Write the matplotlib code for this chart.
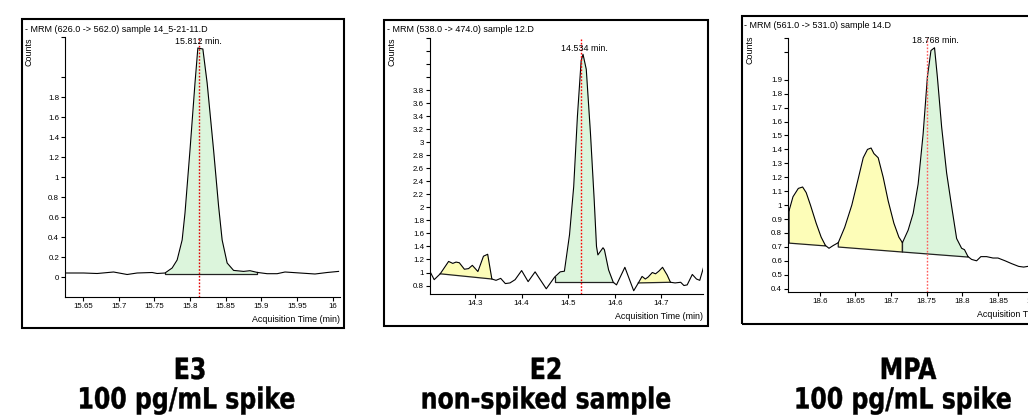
import matplotlib.pyplot as plt
from matplotlib.patches import Rectangle
from matplotlib.patheffects import AbstractPathEffect
from matplotlib.transforms import Affine2D
import numpy as np

# ---- data ----
# E3, 100 pg/mL spike
e3_time = [15.625, 15.651, 15.670, 15.693, 15.712, 15.726, 15.747, 15.754, 15.765,
           15.775, 15.782, 15.789, 15.793, 15.800, 15.807, 15.811, 15.818, 15.824,
           15.833, 15.840, 15.845, 15.852, 15.861, 15.875, 15.884, 15.894, 15.908,
           15.922, 15.933, 15.954, 15.975, 15.992, 16.008]
e3_counts = [0.04, 0.04, 0.035, 0.05, 0.025, 0.04, 0.045, 0.035, 0.04,
             0.09, 0.17, 0.37, 0.64, 1.27, 1.94, 2.29, 2.28, 1.94,
             1.27, 0.71, 0.37, 0.14, 0.066, 0.056, 0.063, 0.046, 0.033,
             0.033, 0.05, 0.04, 0.03, 0.045, 0.056]
# integrated peaks: start, end, baseline at start, baseline at end
e3_peaks = [(15.765, 15.894, 0.035, 0.035)]
e3_kind = ['target']
e3_rt = 15.813

# E2, non-spiked sample
e2_time = [14.203, 14.212, 14.225, 14.243, 14.252, 14.259, 14.266, 14.277, 14.286,
           14.294, 14.306, 14.318, 14.327, 14.336, 14.345, 14.355, 14.365, 14.375,
           14.386, 14.400, 14.414, 14.429, 14.440, 14.453, 14.471, 14.483, 14.492,
           14.503, 14.512, 14.520, 14.528, 14.532, 14.539, 14.548, 14.556, 14.561,
           14.564, 14.575, 14.578, 14.587, 14.597, 14.604, 14.622, 14.641, 14.651,
           14.659, 14.666, 14.672, 14.681, 14.688, 14.695, 14.703, 14.713, 14.720,
           14.730, 14.742, 14.749, 14.756, 14.767, 14.776, 14.783, 14.792]
e2_counts = [1.015, 0.89, 0.98, 1.17, 1.14, 1.16, 1.15, 1.05, 1.06,
             1.11, 1.015, 1.25, 1.28, 0.90, 0.88, 0.91, 0.83, 0.84,
             0.89, 1.03, 0.86, 1.01, 0.89, 0.75, 0.93, 1.01, 1.02,
             1.58, 2.32, 3.40, 4.25, 4.35, 4.12, 3.14, 2.12, 1.40,
             1.27, 1.38, 1.35, 1.04, 0.85, 0.81, 1.08, 0.72, 0.84,
             0.94, 0.90, 0.93, 1.00, 0.98, 1.02, 1.08, 0.96, 0.85,
             0.84, 0.85, 0.80, 0.81, 0.97, 0.90, 0.88, 1.10]
e2_peaks = [(14.225, 14.336, 0.98, 0.90),
            (14.471, 14.597, 0.85, 0.85),
            (14.651, 14.720, 0.84, 0.85)]
e2_kind = ['other', 'target', 'other']
e2_rt = 14.527

# MPA, 100 pg/mL spike
mpa_time = [18.557, 18.5625, 18.570, 18.576, 18.581, 18.587, 18.595, 18.602, 18.608,
            18.613, 18.619, 18.626, 18.635, 18.645, 18.654, 18.661, 18.667, 18.672,
            18.676, 18.682, 18.689, 18.696, 18.704, 18.711, 18.716, 18.724, 18.731,
            18.738, 18.745, 18.751, 18.756, 18.761, 18.765, 18.771, 18.778, 18.785,
            18.792, 18.799, 18.803, 18.808, 18.813, 18.820, 18.826, 18.834, 18.843,
            18.850, 18.860, 18.869, 18.879, 18.886, 18.892, 18.900]
mpa_counts = [0.96, 1.06, 1.12, 1.13, 1.09, 1.00, 0.87, 0.77, 0.71,
              0.69, 0.71, 0.73, 0.84, 1.00, 1.19, 1.34, 1.40, 1.41,
              1.37, 1.34, 1.20, 1.03, 0.87, 0.77, 0.73, 0.82, 0.94,
              1.15, 1.51, 1.92, 2.11, 2.13, 1.92, 1.56, 1.23, 0.99,
              0.76, 0.69, 0.68, 0.63, 0.61, 0.60, 0.63, 0.63, 0.62,
              0.62, 0.60, 0.58, 0.56, 0.555, 0.56, 0.57]
mpa_peaks = [(18.557, 18.608, 0.727, 0.707),
             (18.626, 18.716, 0.699, 0.663),
             (18.716, 18.808, 0.663, 0.627)]
mpa_kind = ['other', 'other', 'target']
mpa_rt = 18.751

titles = ['- MRM (626.0 -> 562.0) sample 14_5-21-11.D',
          '- MRM (538.0 -> 474.0) sample 12.D',
          '- MRM (561.0 -> 531.0) sample 14.D']
rt_labels = ['15.812 min.', '14.534 min.', '18.768 min.']
compounds = ['E3', 'E2', 'MPA']
conditions = ['100 pg/mL spike', 'non-spiked sample', '100 pg/mL spike']

e3_yticks = [0, 0.2, 0.4, 0.6, 0.8, 1, 1.2, 1.4, 1.6, 1.8]
e3_yextra = [2.0, 2.4]
e3_xticks = [15.65, 15.7, 15.75, 15.8, 15.85, 15.9, 15.95, 16]
e2_yticks = [0.8, 1, 1.2, 1.4, 1.6, 1.8, 2, 2.2, 2.4, 2.6, 2.8, 3, 3.2, 3.4, 3.6, 3.8]
e2_yextra = [4.0, 4.2, 4.4, 4.6]
e2_xticks = [14.3, 14.4, 14.5, 14.6, 14.7]
mpa_yticks = [0.4, 0.5, 0.6, 0.7, 0.8, 0.9, 1, 1.1, 1.2, 1.3, 1.4, 1.5, 1.6, 1.7, 1.8, 1.9]
mpa_yextra = [2.1, 2.2]
mpa_xticks = [18.6, 18.65, 18.7, 18.75, 18.8, 18.85, 18.9]

W, H = 1028, 417
plt.rcParams['font.family'] = ['Liberation Sans', 'DejaVu Sans']

fig = plt.figure(figsize=(W / 100, H / 100), dpi=100)


def fx(px):
    return px / W


def fy(py):
    return 1 - py / H


def add_axes(left, top, right, bottom):
    return fig.add_axes([fx(left), fy(bottom), (right - left) / W, (bottom - top) / H])


class Squeeze(AbstractPathEffect):
    # narrows the glyphs around x0 (pixels), like the condensed caption font
    def __init__(self, x0, sx=0.9, stroke=0.3):
        super().__init__()
        self.x0, self.sx, self.stroke = x0, sx, stroke

    def draw_path(self, renderer, gc, tpath, affine, rgbFace=None):
        sq = Affine2D().translate(-self.x0, 0).scale(self.sx, 1).translate(self.x0, 0)
        gc0 = renderer.new_gc()
        gc0.copy_properties(gc)
        gc0.set_linewidth(self.stroke)
        gc0.set_foreground(rgbFace)
        renderer.draw_path(gc0, tpath, affine + sq, rgbFace)
        gc0.restore()


fill_col = {'target': '#dcf5dc', 'other': '#fdfdb8'}


def draw_panel(ax, t, c, peaks, kinds, rt, rt_label, label_x, label_y, xlim, ylim,
               yticks, yextra, xticks, rt_color):
    t = np.array(t)
    c = np.array(c)
    for (t0, t1, b0, b1), kind in zip(peaks, kinds):
        m = (t >= t0 - 1e-9) & (t <= t1 + 1e-9)
        tt = t[m]
        base = b0 + (b1 - b0) * (tt - t0) / (t1 - t0)
        ax.fill_between(tt, base, c[m], color=fill_col[kind], lw=0, zorder=1)
        ax.plot([t0, t0, t1, t1], [c[m][0], b0, b1, c[m][-1]], color='#222222',
                lw=0.9, zorder=2)
    ax.plot(t, c, color='black', lw=0.8, zorder=3)
    ax.axvline(rt, color=rt_color, ls=(0, (1.2, 1.2)), lw=1.0, zorder=4)
    ax.text(label_x, label_y, rt_label, ha='center', va='center', fontsize=6.4, zorder=5)
    ax.set_xlim(*xlim)
    ax.set_ylim(*ylim)
    ax.set_yticks(yticks + yextra)
    ax.set_yticklabels(['%g' % v for v in yticks] + [''] * len(yextra))
    ax.set_xticks(xticks)
    ax.set_xticklabels(['%g' % v for v in xticks])
    ax.tick_params(length=3, width=0.8, pad=1.2, labelsize=5.7, colors='black')
    for s in ['top', 'right']:
        ax.spines[s].set_visible(False)
    for s in ['left', 'bottom']:
        ax.spines[s].set_linewidth(0.8)
    ax.patch.set_alpha(0)
    ax.text(1.0, -0.088, 'Acquisition Time (min)', transform=ax.transAxes,
            ha='right', va='center', fontsize=6.4)


ax1 = add_axes(65, 37, 340, 297)
draw_panel(ax1, e3_time, e3_counts, e3_peaks, e3_kind, e3_rt, rt_labels[0], 15.8115, 2.35,
           (15.625, 16.01), (-0.2, 2.4), e3_yticks, e3_yextra, e3_xticks, '#e00000')
ax2 = add_axes(430, 38, 703, 294)
draw_panel(ax2, e2_time, e2_counts, e2_peaks, e2_kind, e2_rt, rt_labels[1], 14.535, 4.44,
           (14.203, 14.79), (0.67, 4.6), e2_yticks, e2_yextra, e2_xticks, '#ff0000')
ax3 = add_axes(788, 38, 1065, 292)
draw_panel(ax3, mpa_time, mpa_counts, mpa_peaks, mpa_kind, mpa_rt, rt_labels[2], 18.762, 2.18,
           (18.5555, 18.944), (0.376, 2.2), mpa_yticks, mpa_yextra, mpa_xticks, '#ff5a5a')

# frames, titles, "Counts"
frames = [(22, 19, 344, 328), (384, 20, 708, 326), (742, 16, 1075, 324)]
title_pos = [(25, 29), (387, 29), (744, 26)]
counts_pos = [(29, 37), (392, 38), (750, 36)]
for (l, tp, r, b), (tx, ty), (cx, cy), title in zip(frames, title_pos, counts_pos, titles):
    fig.add_artist(Rectangle((fx(l), fy(b)), (r - l) / W, (b - tp) / H,
                             transform=fig.transFigure, fill=False,
                             edgecolor='black', lw=1.5))
    fig.text(fx(tx), fy(ty), title, ha='left', va='center', fontsize=6.5)
    fig.text(fx(cx), fy(cy), 'Counts', ha='center', va='top', rotation=90, fontsize=6.4)

# captions under the panels
cap_font = dict(family='DejaVu Sans', stretch='condensed', weight='bold', fontsize=21)
for x1, x2, comp, cond in zip([190, 546, 908], [186.5, 546, 903], compounds, conditions):
    fig.text(fx(x1), fy(379), comp, ha='center', va='baseline',
             path_effects=[Squeeze(x1)], **cap_font)
    fig.text(fx(x2), fy(408.5), cond, ha='center', va='baseline',
             path_effects=[Squeeze(x2)], **cap_font)

fig.savefig('out.png', dpi=100)
